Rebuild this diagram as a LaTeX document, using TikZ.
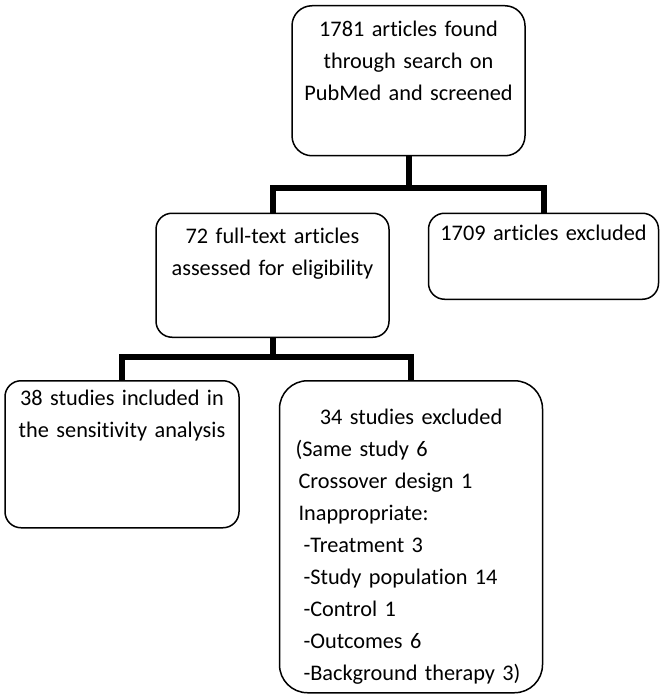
\documentclass[tikz,border=0pt]{standalone}
\usepackage{fontspec}
\setmainfont{Carlito}[Ligatures=NoCommon]
\usetikzlibrary{positioning}

\begin{document}
\begin{tikzpicture}[
        x=1pt, y=1pt,
        every node/.style={font=\fontsize{22.3}{32}\selectfont},
        box/.style={draw, line width=1.5pt, rounded corners=16pt, inner xsep=0pt, inner ysep=0pt, align=center},
        bus/.style={line width=6pt}
    ]
    \useasboundingbox (0,0) rectangle (664,-695);

    % Nodes -----------------------------------------------
    \node[box, anchor=north, text width=233pt, text height=31pt, text depth=119pt, rounded corners=20pt]
        (search) at (408.5,-5) {1781 articles found\\through search on\\PubMed and screened};
    \node[box, below=56pt of search, xshift=-136pt, text width=233pt, text height=30pt, text depth=94pt]
        (assess) {72 full-text articles\\assessed for eligibility};
    \node[box, right=38pt of assess.north east, anchor=north west, text width=230pt, text height=27pt, text depth=59pt]
        (excl) {1709 articles excluded};
    \node[box, below=42pt of assess, xshift=-150.5pt, text width=234pt, text height=25pt, text depth=122pt]
        (incl) {38 studies included in\\the sensitivity analysis};
    \node[box, right=39pt of incl.north east, anchor=north west, text width=231pt, inner xsep=16pt,
          align=left, text height=44pt, text depth=268pt, rounded corners=28pt]
        (exclst) {\makebox[\linewidth]{34 studies excluded}\\
                  (Same study 6\\
                  \hspace*{3pt}Crossover design 1\\
                  \hspace*{3pt}Inappropriate:\\
                  \hspace*{8pt}-Treatment 3\\
                  \hspace*{8pt}-Study population 14\\
                  \hspace*{8pt}-Control 1\\
                  \hspace*{8pt}-Outcomes 6\\
                  \hspace*{8pt}-Background therapy 3)};

    \coordinate[below=31pt of search.south] (split1);
    \coordinate[below=19pt of assess.south] (split2);

      % first split
      \draw[bus] (search) -- (split1);
      \draw[bus] (assess.north) |- (split1) -| (excl.north);

      % second split
      \draw[bus] (assess) -- (split2);
      \draw[bus] (incl.north) |- (split2) -| (exclst.north);
\end{tikzpicture}
\end{document}
